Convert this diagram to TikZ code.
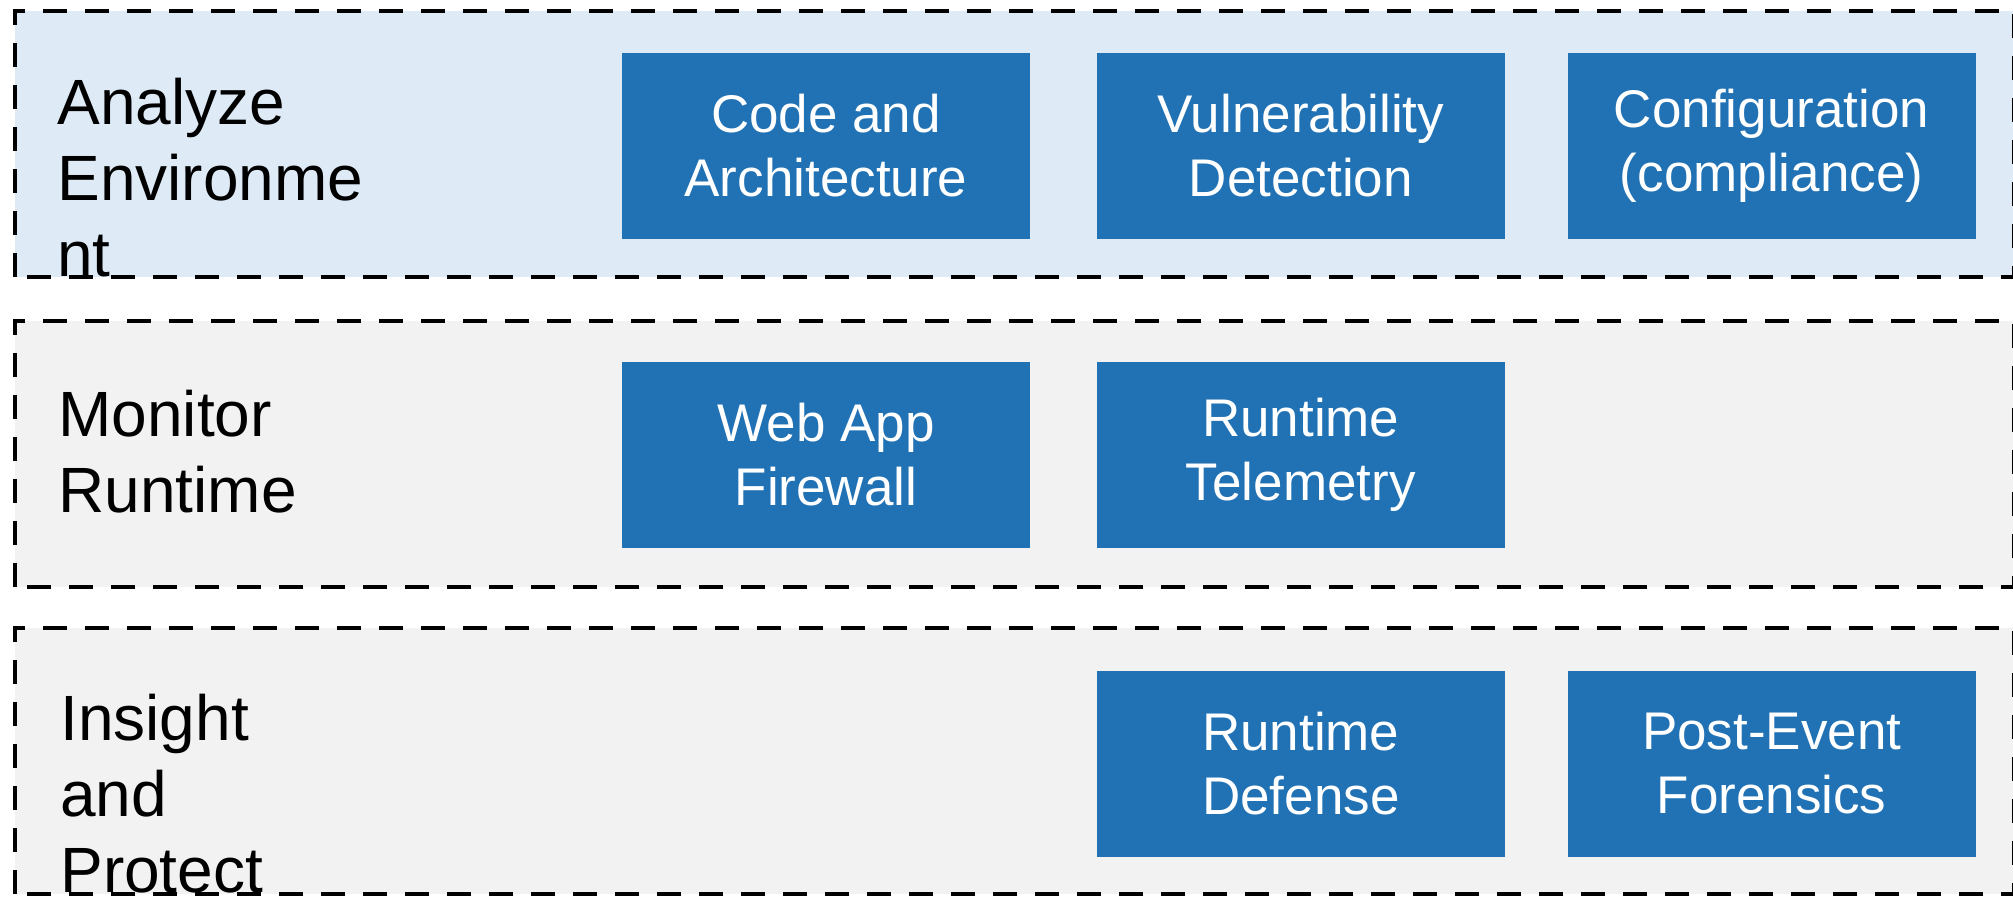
\documentclass[tikz,border=0pt]{standalone}
\usepackage{fontspec}
\setmainfont{Liberation Sans}
\usetikzlibrary{positioning}
\def\laneleft{15}
\def\laneright{2014}
\definecolor{lightblue1}{RGB}{222,235,247}
\definecolor{gray5}{RGB}{242,242,242}
\definecolor{blue1}{RGB}{33,114,180}

\begin{document}
\begin{tikzpicture}[x=0.5pt,y=0.5pt,
	lane/.style={draw=black,line width=2.4pt,dash pattern=on 12pt off 9pt},
	capability/.style={fill=blue1,text=white,minimum width=204pt,minimum height=93pt,inner sep=0pt,align=center,font=\fontsize{26.5}{32}\selectfont},
	lanelabel/.style={anchor=base west,align=left,inner sep=0pt,font=\fontsize{32}{38}\selectfont}]

	\useasboundingbox (0,0) rectangle (2013,898);

	%%% Lane backgrounds
	\fill[lightblue1] (\laneleft,621) rectangle (\laneright,887);
	\fill[gray5] (\laneleft,311) rectangle (\laneright,577);
	\fill[gray5] (\laneleft,4) rectangle (\laneright,270);

	%%% Capability boxes
	\node[capability] (code) at (826,752) {Code and\\Architecture};
	\node[capability,right=33pt of code] (vuln) {Vulnerability\\Detection};
	\node[capability,right=31pt of vuln] (config) {Configuration\\(compliance)};
	\node[capability,below=61pt of code] (waf) {Web App\\Firewall};
	\node[capability,below=61pt of vuln] (telemetry) {Runtime\\Telemetry};
	\node[capability,below=61pt of telemetry] (defense) {Runtime\\Defense};
	\node[capability,right=31pt of defense] (forensics) {Post-Event\\Forensics};

	%%% Lane labels (anchored at the last line)
	\node[lanelabel] (analyze) at (57,621) {Analyze\\Environme\\nt};
	\node[lanelabel] (monitor) at (58,385) {Monitor\\Runtime};
	\node[lanelabel] (insight) at (60,5) {Insight\\and\\Protect};

	%%% Redraw lane borders
	\draw[lane] (\laneleft,621) rectangle (\laneright,887);
	\draw[lane] (\laneleft,311) rectangle (\laneright,577);
	\draw[lane] (\laneleft,4) rectangle (\laneright,270);

\end{tikzpicture}
\end{document}
